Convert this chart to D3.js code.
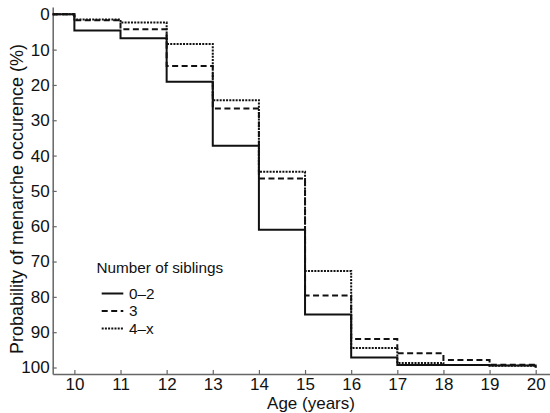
<!DOCTYPE html>
<html><head><meta charset="utf-8">
<script src="https://cdn.jsdelivr.net/npm/d3@7"></script>
<style>body{margin:0;background:#fff}svg{display:block}text{font-family:Arial,"Liberation Sans",sans-serif;fill:#111}</style>
</head><body><div id="chart"></div>
<script>
// Data: probability (%) in each one-year interval starting at the given age
const ageBreaks = [10, 11, 12, 13, 14, 15, 16, 17, 18, 19, 20];
const groups = ["0–2", "3", "4–x"];
const sib02 = [0, 4.6, 6.8, 19.1, 37.2, 61.0, 85.0, 97.2, 99.3, 99.3, 99.4];
const sib3  = [0, 1.7, 4.2, 14.6, 26.7, 46.5, 79.6, 91.9, 96.0, 97.9, 99.2];
const sib4x = [0, 1.5, 2.3, 8.4, 24.3, 44.6, 72.7, 94.5, 98.7, 99.3, 99.5];
const finalValue = 100;
const xTicks = [10, 11, 12, 13, 14, 15, 16, 17, 18, 19, 20];
const yTicks = [0, 10, 20, 30, 40, 50, 60, 70, 80, 90, 100];

const W = 550, H = 413;
const svg = d3.select("#chart").append("svg").attr("width", W).attr("height", H);
const x = d3.scaleLinear().domain([9.53, 20.31]).range([52.7, 550]);
const y = d3.scaleLinear().domain([-2.07, 101.84]).range([7, 374]);

const axisColor = "#666";
const gx = svg.append("g").attr("transform", `translate(0,${y.range()[1]})`)
  .call(d3.axisBottom(x).tickValues(xTicks).tickFormat(d3.format("d")).tickSizeInner(-4).tickSizeOuter(0).tickPadding(4));
const gy = svg.append("g").attr("transform", `translate(${x.range()[0]},0)`)
  .call(d3.axisLeft(y).tickValues(yTicks).tickFormat(d3.format("d")).tickSizeInner(-4).tickSizeOuter(0).tickPadding(3));
[gx, gy].forEach(g => {
  g.select(".domain").attr("stroke", axisColor).attr("stroke-width", 1.5);
  g.selectAll(".tick line").attr("stroke", axisColor).attr("stroke-width", 1.2);
  g.selectAll(".tick text").style("font-size", "17px").attr("fill", "#111");
});

svg.append("text").attr("x", 311).attr("y", 409).attr("text-anchor", "middle")
  .style("font-size", "17px").text("Age (years)");
svg.append("text").attr("transform", "translate(22.5,199) rotate(-90)").attr("text-anchor", "middle")
  .style("font-size", "18px").text("Probability of menarche occurence (%)");

function stepPoints(vals) {
  const pts = [[x.domain()[0], vals[0]]];
  ageBreaks.forEach((a, i) => {
    const prev = vals[i];
    const next = i + 1 < vals.length ? vals[i + 1] : finalValue;
    pts.push([a, prev]);
    pts.push([a, next]);
  });
  return pts;
}
const line = d3.line().x(d => x(d[0])).y(d => y(d[1]));
const styles = [
  {vals: sib02, dash: null, w: 2},
  {vals: sib3, dash: "6,3.5", w: 2},
  {vals: sib4x, dash: "2,1.2", w: 2}
];
styles.slice().reverse().forEach(s => {
  svg.append("path").datum(stepPoints(s.vals)).attr("d", line)
    .attr("fill", "none").attr("stroke", "#111").attr("stroke-width", s.w)
    .attr("stroke-dasharray", s.dash);
});

// Legend
const lg = svg.append("g");
lg.append("text").attr("x", 96.5).attr("y", 273).style("font-size", "15.3px").text("Number of siblings");
groups.forEach((g, i) => {
  const ly = 293.5 + i * 17.5;
  lg.append("line").attr("x1", 101.7).attr("x2", 123.3).attr("y1", ly).attr("y2", ly)
    .attr("stroke", "#111").attr("stroke-width", 2).attr("stroke-dasharray", styles[i].dash);
  lg.append("text").attr("x", 129).attr("y", ly + 5).style("font-size", "15.3px").text(g);
});
</script></body></html>
